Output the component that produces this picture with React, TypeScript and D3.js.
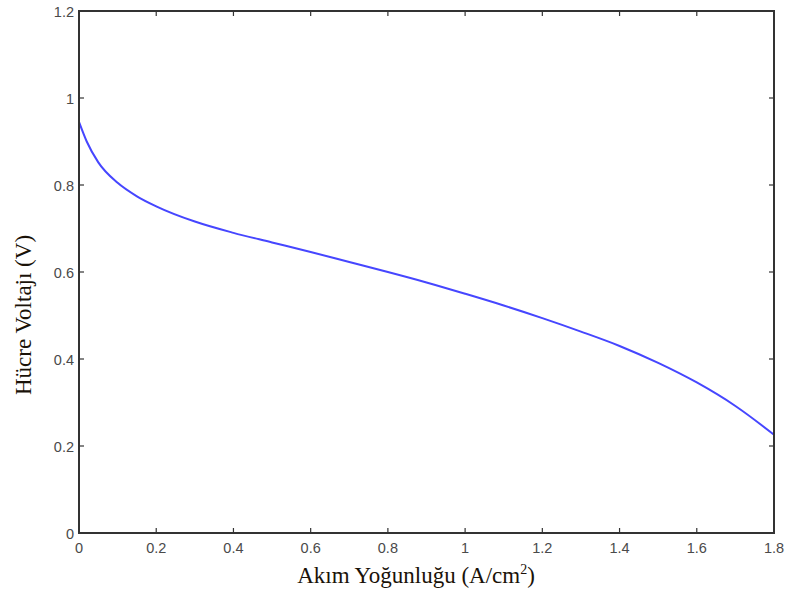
import React from "react";
import * as d3 from "d3";

const currentDensity = [0, 0.02, 0.05, 0.1, 0.15, 0.2, 0.3, 0.4, 0.5, 0.6, 0.7, 0.8, 0.9, 1.0, 1.1, 1.2, 1.3, 1.4, 1.5, 1.6, 1.7, 1.8];
const cellVoltage = [0.945, 0.9, 0.852, 0.805, 0.774, 0.751, 0.716, 0.69, 0.668, 0.646, 0.623, 0.6, 0.576, 0.55, 0.523, 0.494, 0.463, 0.43, 0.391, 0.346, 0.292, 0.226];
const xTicks = [0, 0.2, 0.4, 0.6, 0.8, 1, 1.2, 1.4, 1.6, 1.8];
const yTicks = [0, 0.2, 0.4, 0.6, 0.8, 1, 1.2];

export default function App() {
  const W = 785, H = 594;
  const left = 79, right = 774, top = 11, bottom = 533;
  const x = d3.scaleLinear().domain([0, 1.8]).range([left, right]);
  const y = d3.scaleLinear().domain([0, 1.2]).range([bottom, top]);
  const data = currentDensity.map((d, i) => [d, cellVoltage[i]] as [number, number]);
  const line = d3.line<[number, number]>().x(d => x(d[0])).y(d => y(d[1])).curve(d3.curveMonotoneX);
  const tl = 5;
  const axisColor = "#333";
  const fmt = (v: number) => String(v);
  const tickFont = "Liberation Sans, Arial, sans-serif";
  return (
    <svg width={W} height={H} style={{ position: "absolute", left: 0, top: 0, background: "#fff" }}>
      <rect x={0} y={0} width={W} height={H} fill="#fff" />
      <path d={line(data) || ""} fill="none" stroke="#4646ff" strokeWidth={2} />
      {xTicks.map(t => (
        <g key={"x" + t}>
          <line x1={x(t)} x2={x(t)} y1={bottom} y2={bottom - tl} stroke={axisColor} strokeWidth={1.2} />
          <line x1={x(t)} x2={x(t)} y1={top} y2={top + tl} stroke={axisColor} strokeWidth={1.2} />
          <text x={x(t)} y={553} textAnchor="middle" fontFamily={tickFont} fontSize={14.5} fill="#4a4a4a">{fmt(t)}</text>
        </g>
      ))}
      {yTicks.map(t => (
        <g key={"y" + t}>
          <line x1={left} x2={left + tl} y1={y(t)} y2={y(t)} stroke={axisColor} strokeWidth={1.2} />
          <line x1={right} x2={right - tl} y1={y(t)} y2={y(t)} stroke={axisColor} strokeWidth={1.2} />
          <text x={74} y={y(t) + 5.5} textAnchor="end" fontFamily={tickFont} fontSize={14.5} fill="#4a4a4a">{fmt(t)}</text>
        </g>
      ))}
      <rect x={left} y={top} width={right - left} height={bottom - top} fill="none" stroke={axisColor} strokeWidth={2} />
      <text x={416} y={583} textAnchor="middle" fontFamily="Liberation Serif, Times New Roman, serif" fontSize={23} fill="#1a1208">
        Akım Yoğunluğu (A/cm<tspan dy={-9} fontSize={14}>2</tspan><tspan dy={9}>)</tspan>
      </text>
      <text transform={`translate(31, 315) rotate(-90)`} textAnchor="middle" fontFamily="Liberation Serif, Times New Roman, serif" fontSize={23} fill="#1a1208">
        Hücre Voltajı (V)
      </text>
    </svg>
  );
}
